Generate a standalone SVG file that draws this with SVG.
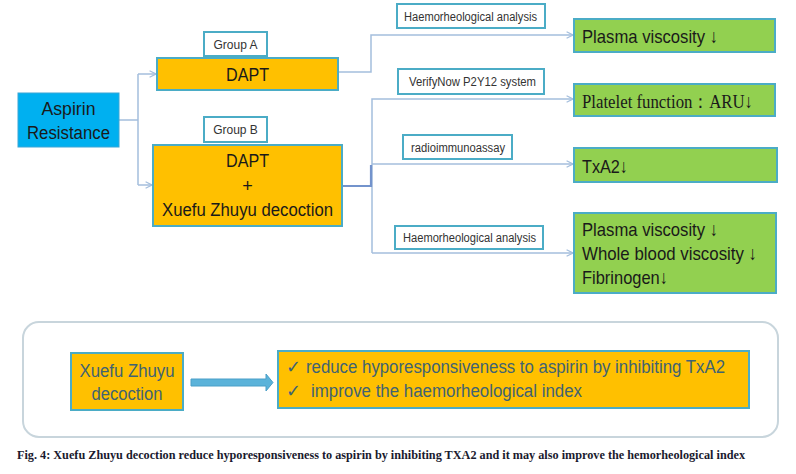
<svg xmlns="http://www.w3.org/2000/svg" width="796" height="474" viewBox="0 0 796 474">
<defs>
<style>
.sans{font-family:"Liberation Sans",Arial,sans-serif}
.serif{font-family:"Liberation Serif","Times New Roman",serif}
.org{fill:#FFC000;stroke:#4BACC6;stroke-width:2}
.grn{fill:#92D050;stroke:#4BACC6;stroke-width:2}
.lbl{fill:#FFFFFF;stroke:#4BACC6;stroke-width:2}
.big{font-size:18px;fill:#1a1a1a}
.res{font-size:19px;fill:#1a1a1a}
.sm{font-size:12px;fill:#333333}
.bot{font-size:18px;fill:#3F6373}
.ln{fill:none;stroke:#A4BEDD;stroke-width:1.5}
</style>
<marker id="ah" viewBox="0 0 10 10" refX="9" refY="5" markerWidth="8" markerHeight="8" markerUnits="userSpaceOnUse" orient="auto">
<path d="M1,1 L9,5 L1,9" fill="none" stroke="#A4BEDD" stroke-width="1.6"/>
</marker>
</defs>
<rect width="796" height="474" fill="#FFFFFF"/>

<g id="connectors">
<path class="ln" d="M119,120 H138 M138,74 V185"/>
<path class="ln" d="M138,74 H156" marker-end="url(#ah)"/>
<path class="ln" d="M138,185 H152" marker-end="url(#ah)"/>
<path class="ln" d="M338,72 H371 V35 H573" marker-end="url(#ah)"/>
<path class="ln" d="M372,253 V99 H573" marker-end="url(#ah)"/>
<path class="ln" d="M372,164 H573" marker-end="url(#ah)"/>
<path class="ln" d="M372,253 H573" marker-end="url(#ah)"/>
<path d="M342,186 H371 V165" fill="none" stroke="#7393CC" stroke-width="2.2"/>
</g>

<g id="aspirin">
<rect x="18" y="93" width="101" height="54" fill="#00B0F0" stroke="#3BA6D6" stroke-width="1"/>
<text class="sans big" x="68.5" y="115" text-anchor="middle" textLength="54" lengthAdjust="spacingAndGlyphs">Aspirin</text>
<text class="sans big" x="68.5" y="139" text-anchor="middle" textLength="83" lengthAdjust="spacingAndGlyphs">Resistance</text>
</g>

<g id="groupA-label">
<rect class="lbl" x="204" y="32" width="63" height="24"/>
<text class="sans sm" x="235.5" y="48.5" text-anchor="middle">Group A</text>
</g>
<g id="dapt-a">
<rect class="org" x="157" y="58" width="181" height="32"/>
<text class="sans big" x="247.5" y="81" text-anchor="middle" textLength="43" lengthAdjust="spacingAndGlyphs">DAPT</text>
</g>

<g id="groupB-label">
<rect class="lbl" x="204" y="117" width="63" height="25"/>
<text class="sans sm" x="235.5" y="134" text-anchor="middle">Group B</text>
</g>
<g id="dapt-b">
<rect class="org" x="153" y="145" width="189" height="81"/>
<text class="sans big" x="247.5" y="167" text-anchor="middle" textLength="43" lengthAdjust="spacingAndGlyphs">DAPT</text>
<text class="sans big" x="247.5" y="192" text-anchor="middle">+</text>
<text class="sans big" x="247.5" y="216" text-anchor="middle" textLength="171" lengthAdjust="spacingAndGlyphs">Xuefu Zhuyu decoction</text>
</g>

<g id="label-haemo1">
<rect class="lbl" x="397" y="4" width="148" height="24"/>
<text class="sans sm" x="404" y="20.5" textLength="133" lengthAdjust="spacingAndGlyphs">Haemorheological analysis</text>
</g>
<g id="label-verify">
<rect class="lbl" x="398" y="69" width="146" height="25"/>
<text class="sans sm" x="409" y="86" textLength="127" lengthAdjust="spacingAndGlyphs">VerifyNow P2Y12 system</text>
</g>
<g id="label-radio">
<rect class="lbl" x="403" y="135" width="109" height="24"/>
<text class="sans sm" x="411" y="152" textLength="94" lengthAdjust="spacingAndGlyphs">radioimmunoassay</text>
</g>
<g id="label-haemo2">
<rect class="lbl" x="395" y="226" width="148" height="23"/>
<text class="sans sm" x="403" y="242" textLength="133" lengthAdjust="spacingAndGlyphs">Haemorheological analysis</text>
</g>

<g id="res-plasma">
<rect class="grn" x="574" y="19" width="201" height="33"/>
<text class="sans res" x="582" y="43" textLength="136" lengthAdjust="spacingAndGlyphs">Plasma viscosity ↓</text>
</g>
<g id="res-platelet">
<rect class="grn" x="574" y="84" width="201" height="32"/>
<text class="serif res" x="582" y="108" textLength="171" lengthAdjust="spacingAndGlyphs">Platelet function：ARU↓</text>
</g>
<g id="res-txa2">
<rect class="grn" x="574" y="148" width="203" height="34"/>
<text class="sans res" x="582" y="173" textLength="46" lengthAdjust="spacingAndGlyphs">TxA2↓</text>
</g>
<g id="res-haemo">
<rect class="grn" x="574" y="213" width="202" height="80"/>
<text class="sans res" x="582" y="236" textLength="136" lengthAdjust="spacingAndGlyphs">Plasma viscosity ↓</text>
<text class="sans res" x="582" y="260" textLength="175" lengthAdjust="spacingAndGlyphs">Whole blood viscosity ↓</text>
<text class="sans res" x="582" y="284" textLength="86" lengthAdjust="spacingAndGlyphs">Fibrinogen↓</text>
</g>

<g id="summary">
<rect x="23" y="322" width="755" height="115" rx="16" ry="16" fill="#FFFFFF" stroke="#C8D5DC" stroke-width="2"/>
</g>
<g id="xuefu">
<rect class="org" x="71" y="353" width="112" height="57"/>
<text class="sans bot" x="127" y="377" text-anchor="middle" textLength="95" lengthAdjust="spacingAndGlyphs">Xuefu Zhuyu</text>
<text class="sans bot" x="127" y="400" text-anchor="middle" textLength="71" lengthAdjust="spacingAndGlyphs">decoction</text>
</g>
<g id="big-arrow">
<path d="M191,379 H266 V374 L273,382.5 L266,391 V386 H191 Z" fill="#5BB3DA" stroke="#4A9FC8" stroke-width="1"/>
</g>
<g id="effects">
<rect class="org" x="278" y="351" width="471" height="57"/>
<text class="sans bot" x="286" y="373">✓</text>
<text class="sans bot" x="306" y="373" textLength="419" lengthAdjust="spacingAndGlyphs">reduce hyporesponsiveness to aspirin by inhibiting TxA2</text>
<text class="sans bot" x="286" y="397">✓</text>
<text class="sans bot" x="311" y="397" textLength="271" lengthAdjust="spacingAndGlyphs">improve the haemorheological index</text>
</g>

<text class="serif" x="17" y="459" font-size="12.5" font-weight="bold" fill="#1a1a2e" textLength="728" lengthAdjust="spacingAndGlyphs">Fig. 4: Xuefu Zhuyu decoction reduce hyporesponsiveness to aspirin by inhibiting TXA2 and it may also improve the hemorheological index</text>
</svg>
